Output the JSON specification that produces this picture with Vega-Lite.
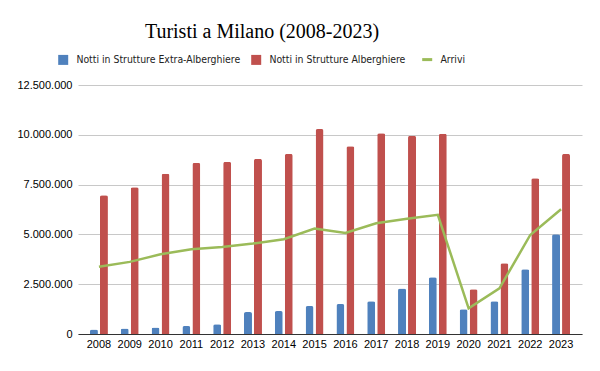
{
  "$schema": "https://vega.github.io/schema/vega-lite/v6.json",
  "width": 504,
  "height": 249,
  "autosize": {"type": "none"},
  "padding": {"left": 78, "top": 85, "right": 18, "bottom": 37},
  "background": "white",
  "config": {
    "locale": {"number": {"decimal": ",", "thousands": ".", "grouping": [3], "currency": ["€", ""]}},
    "view": {"stroke": null}
  },
  "title": {
    "text": "Turisti a Milano (2008-2023)",
    "font": "Liberation Serif",
    "fontSize": 20,
    "fontWeight": "normal",
    "color": "#000000",
    "frame": "group",
    "anchor": "middle",
    "baseline": "alphabetic",
    "offset": -4,
    "dx": -68
  },
  "data": {
    "values": [
      {"year": "2008", "series": "Notti in Strutture Extra-Alberghiere", "value": 230000},
      {"year": "2009", "series": "Notti in Strutture Extra-Alberghiere", "value": 280000},
      {"year": "2010", "series": "Notti in Strutture Extra-Alberghiere", "value": 330000},
      {"year": "2011", "series": "Notti in Strutture Extra-Alberghiere", "value": 400000},
      {"year": "2012", "series": "Notti in Strutture Extra-Alberghiere", "value": 490000},
      {"year": "2013", "series": "Notti in Strutture Extra-Alberghiere", "value": 1100000},
      {"year": "2014", "series": "Notti in Strutture Extra-Alberghiere", "value": 1150000},
      {"year": "2015", "series": "Notti in Strutture Extra-Alberghiere", "value": 1400000},
      {"year": "2016", "series": "Notti in Strutture Extra-Alberghiere", "value": 1500000},
      {"year": "2017", "series": "Notti in Strutture Extra-Alberghiere", "value": 1640000},
      {"year": "2018", "series": "Notti in Strutture Extra-Alberghiere", "value": 2290000},
      {"year": "2019", "series": "Notti in Strutture Extra-Alberghiere", "value": 2850000},
      {"year": "2020", "series": "Notti in Strutture Extra-Alberghiere", "value": 1240000},
      {"year": "2021", "series": "Notti in Strutture Extra-Alberghiere", "value": 1640000},
      {"year": "2022", "series": "Notti in Strutture Extra-Alberghiere", "value": 3250000},
      {"year": "2023", "series": "Notti in Strutture Extra-Alberghiere", "value": 5010000},
      {"year": "2008", "series": "Notti in Strutture Alberghiere", "value": 6970000},
      {"year": "2009", "series": "Notti in Strutture Alberghiere", "value": 7370000},
      {"year": "2010", "series": "Notti in Strutture Alberghiere", "value": 8040000},
      {"year": "2011", "series": "Notti in Strutture Alberghiere", "value": 8590000},
      {"year": "2012", "series": "Notti in Strutture Alberghiere", "value": 8640000},
      {"year": "2013", "series": "Notti in Strutture Alberghiere", "value": 8790000},
      {"year": "2014", "series": "Notti in Strutture Alberghiere", "value": 9040000},
      {"year": "2015", "series": "Notti in Strutture Alberghiere", "value": 10290000},
      {"year": "2016", "series": "Notti in Strutture Alberghiere", "value": 9430000},
      {"year": "2017", "series": "Notti in Strutture Alberghiere", "value": 10080000},
      {"year": "2018", "series": "Notti in Strutture Alberghiere", "value": 9950000},
      {"year": "2019", "series": "Notti in Strutture Alberghiere", "value": 10050000},
      {"year": "2020", "series": "Notti in Strutture Alberghiere", "value": 2250000},
      {"year": "2021", "series": "Notti in Strutture Alberghiere", "value": 3550000},
      {"year": "2022", "series": "Notti in Strutture Alberghiere", "value": 7820000},
      {"year": "2023", "series": "Notti in Strutture Alberghiere", "value": 9040000},
      {"year": "2008", "series": "Arrivi", "value": 3380000},
      {"year": "2009", "series": "Arrivi", "value": 3620000},
      {"year": "2010", "series": "Arrivi", "value": 4000000},
      {"year": "2011", "series": "Arrivi", "value": 4250000},
      {"year": "2012", "series": "Arrivi", "value": 4370000},
      {"year": "2013", "series": "Arrivi", "value": 4540000},
      {"year": "2014", "series": "Arrivi", "value": 4760000},
      {"year": "2015", "series": "Arrivi", "value": 5290000},
      {"year": "2016", "series": "Arrivi", "value": 5070000},
      {"year": "2017", "series": "Arrivi", "value": 5560000},
      {"year": "2018", "series": "Arrivi", "value": 5780000},
      {"year": "2019", "series": "Arrivi", "value": 5980000},
      {"year": "2020", "series": "Arrivi", "value": 1290000},
      {"year": "2021", "series": "Arrivi", "value": 2290000},
      {"year": "2022", "series": "Arrivi", "value": 4970000},
      {"year": "2023", "series": "Arrivi", "value": 6260000}
    ]
  },
  "encoding": {
    "x": {
      "field": "year",
      "type": "nominal",
      "title": null,
      "scale": {"paddingInner": 0.416, "paddingOuter": 0.388},
      "axis": {
        "labelAngle": 0,
        "labelFont": "Liberation Sans",
        "labelFontSize": 11,
        "labelColor": "#000000",
        "labelPadding": 4,
        "ticks": false,
        "domainColor": "#333333",
        "domainWidth": 1,
        "grid": false
      }
    },
    "y": {
      "field": "value",
      "type": "quantitative",
      "title": null,
      "scale": {"domain": [0, 12500000], "nice": false},
      "axis": {
        "values": [0, 2500000, 5000000, 7500000, 10000000, 12500000],
        "format": ",d",
        "labelFont": "Liberation Sans",
        "labelFontSize": 11,
        "labelColor": "#000000",
        "labelPadding": 6,
        "ticks": false,
        "domain": false,
        "grid": true,
        "gridColor": "#c8c8c8",
        "gridWidth": 1
      }
    },
    "color": {
      "field": "series",
      "type": "nominal",
      "scale": {
        "domain": ["Notti in Strutture Extra-Alberghiere", "Notti in Strutture Alberghiere", "Arrivi"],
        "range": ["#4f81bd", "#c0504d", "#9bbb59"]
      },
      "legend": {
        "title": null,
        "orient": "none",
        "direction": "horizontal",
        "legendX": -20,
        "legendY": -31,
        "labelFont": "DejaVu Sans Condensed",
        "labelFontSize": 10.4,
        "labelLimit": 300,
        "labelColor": "#222222",
        "labelOffset": 8,
        "symbolSize": 100,
        "columnPadding": 10,
        "encode": {
          "symbols": {
            "update": {
              "shape": {"signal": "datum.value === 'Arrivi' ? 'stroke' : 'square'"},
              "fill": {"scale": "color", "field": "value"},
              "stroke": {"scale": "color", "field": "value"},
              "strokeWidth": {"signal": "datum.value === 'Arrivi' ? 3 : 0"},
              "opacity": {"value": 1}
            }
          }
        }
      }
    }
  },
  "layer": [
    {
      "transform": [{"filter": "datum.series !== 'Arrivi'"}],
      "mark": {"type": "bar", "cornerRadiusTopLeft": 2, "cornerRadiusTopRight": 2},
      "encoding": {
        "xOffset": {
          "field": "series",
          "type": "nominal",
          "scale": {"domain": ["Notti in Strutture Extra-Alberghiere", "Notti in Strutture Alberghiere"], "paddingInner": 0.2, "paddingOuter": 0}
        }
      }
    },
    {
      "transform": [{"filter": "datum.series === 'Arrivi'"}],
      "mark": {"type": "line", "strokeWidth": 2.5},
      "encoding": {}
    }
  ]
}
